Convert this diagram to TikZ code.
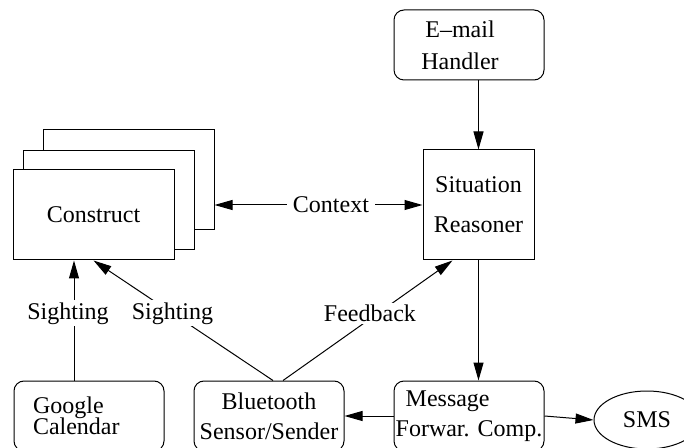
\documentclass[tikz,border=0pt]{standalone}
\usepackage{fontspec}
\setmainfont{Liberation Serif}
\usetikzlibrary{arrows.meta,shapes.geometric}

\begin{document}
\begin{tikzpicture}[
    x=0.5pt, y=-0.5pt,
    line width=0.5pt,
    >={Triangle[length=9pt,width=5pt]},
    every node/.style={font=\fontsize{12}{14}\selectfont},
    box/.style={draw, fill=white, inner sep=1pt, minimum width=75pt, minimum height=35pt},
    rbox/.style={box, rounded corners=5pt},
    %   rbox/.style={box, rounded corners=8pt, align=left},
    lbl/.style={fill=white, inner xsep=3pt, inner ysep=1pt}
   ]
   \useasboundingbox (0,0) rectangle (684,448);
   \clip (0,0) rectangle (684,448);
   % stacked constructs
   \node[box, minimum width=85.5pt, minimum height=50pt] (construct3) at (128.5,180) {};
   \node[box, minimum width=85.5pt, minimum height=49.5pt] (construct2) at (108.5,200.5) {};
   \node[box, minimum width=80.5pt, minimum height=45pt] (construct) at (93.5,215) {Construct};
   % right column
   \node[rbox, align=center] (email) at (469,45) {E--mail\hspace*{9pt}\\[2pt]Handler\hspace*{9pt}};
   \node[box, align=center, minimum width=55.5pt, minimum height=55pt] (sit) at (478.5,205)
     {Situation\\[6pt]Reasoner};
   % bottom row
   \node[rbox, align=left, text width=56pt, inner xsep=9.5pt] (google) at (89,416)
     {Google\\[-3.5pt]Calendar};
   \node[rbox, align=center] (bt) at (269,416) {Bluetooth\\[1pt]Sensor/Sender};
   \node[rbox, align=left, inner xsep=0.5pt] (msg) at (469,416)
     {\hspace*{5pt}Message\\[1pt]Forwar. Comp.};
   \node[ellipse, draw, minimum width=53pt, minimum height=29pt, inner sep=0pt] (sms) at (647,420) {SMS};
   % connectors
   \draw[<->] (construct3.east |- sit.west) -- node[lbl, pos=0.56] {Context} (sit.west);
   \draw[->] (sit.north |- email.south) -- (sit.north);
   \draw[->] (sit.south) -- (sit.south |- msg.north);
   \draw[->] ([xshift=-7.5pt]google.north) --
     node[lbl, pos=0.56, xshift=-3pt, inner xsep=1pt] {Sighting}
     ([xshift=-7.5pt]google.north |- construct.south);
   \draw[->] ([xshift=2pt]bt.north) -- node[lbl, pos=0.56, inner xsep=2pt] {Sighting} (construct.south);
   \draw[->] ([xshift=7pt]bt.north) -- node[lbl, pos=0.56, xshift=-4pt, inner xsep=2pt] {Feedback}
     ([xshift=15pt]sit.south west);
   \draw[->] (msg.west) -- (bt.east);
   \draw[->] (msg.east) -- (sms.west);
  \end{tikzpicture}
\end{document}
